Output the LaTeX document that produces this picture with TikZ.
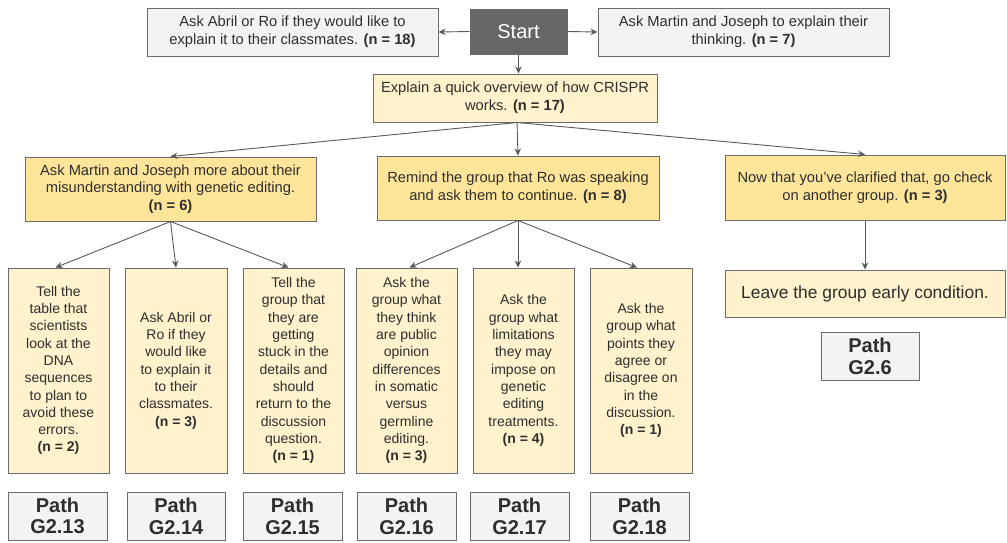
\documentclass[tikz,border=0pt]{standalone}
\usepackage{fontspec}
\setmainfont{Liberation Sans}
\usetikzlibrary{arrows.meta}

\definecolor{bordergray}{HTML}{6B6B6B}
\definecolor{arrowgray}{HTML}{595959}
\definecolor{txt}{HTML}{2E2E2E}
\definecolor{greyfill}{HTML}{F3F3F3}
\definecolor{startfill}{HTML}{666666}
\definecolor{palefill}{HTML}{FFF2CC}
\definecolor{goldfill}{HTML}{FFE599}

\tikzset{
  base/.style={draw=bordergray, line width=1pt, align=center, inner sep=0pt,
               text=txt, font=\fontsize{14.7}{17.8}\selectfont},
  size/.style 2 args={minimum width=#1, minimum height=#2},
  greybox/.style={base, fill=greyfill},
  startbox/.style={base, fill=startfill, text=white, font=\fontsize{20}{24}\selectfont},
  palebox/.style={base, fill=palefill},
  goldbox/.style={base, fill=goldfill},
  tallbox/.style={palebox, size={101pt}{205pt}, font=\fontsize{14}{17.3}\selectfont},
  leavebox/.style={palebox, font=\fontsize{17.4}{20}\selectfont},
  pathbox/.style={greybox, size={99pt}{48pt}, font=\bfseries\fontsize{20}{21.7}\selectfont},
  arr/.style={draw=arrowgray, line width=0.9pt, -{Stealth[length=7pt,width=6.5pt]}},
}

\begin{document}
\begin{tikzpicture}[x=1pt, y=-1pt]
\useasboundingbox (0,0) rectangle (1007,542);

% top row
\node[startbox, size={97pt}{45pt}] (start) at (518.5,31.5) {Start};
\node[greybox, size={291pt}{48pt}] (abril) at (292.5,32)
  {Ask Abril or Ro if they would like to\\explain it to their classmates. \textbf{(n = 18)}};
\node[greybox, size={291pt}{48pt}] (martin) at (743.5,32)
  {Ask Martin and Joseph to explain their\\thinking. \textbf{(n = 7)}};

% overview step
\node[palebox, size={284pt}{48pt}] (crispr) at (515,98)
  {Explain a quick overview of how CRISPR\\works. \textbf{(n = 17)}};

% second level
\node[goldbox, size={291pt}{64pt}] (midL) at (170.5,189)
  {Ask Martin and Joseph more about their\\misunderstanding with genetic editing.\\\textbf{(n = 6)}};
\node[goldbox, size={282pt}{64pt}] (midC) at (518,188)
  {Remind the group that Ro was speaking\\and ask them to continue. \textbf{(n = 8)}};
\node[goldbox, size={280pt}{65pt}] (midR) at (865,187.5)
  {Now that you’ve clarified that, go check\\on another group. \textbf{(n = 3)}};

% leave branch
\node[leavebox, size={280pt}{47pt}] (leave) at (865,293.5) {Leave the group early condition.};
\node[pathbox, size={98pt}{48pt}] (p6) at (870,356) {Path\\G2.6};

% third level
\node[tallbox] (t1) at (58.5,370.5)
  {Tell the\\table that\\scientists\\look at the\\DNA\\sequences\\to plan to\\avoid these\\errors.\\\textbf{(n = 2)}};
\node[tallbox, size={102pt}{205pt}] (t2) at (176,370.5)
  {Ask Abril or\\Ro if they\\would like\\to explain it\\to their\\classmates.\\\textbf{(n = 3)}};
\node[tallbox] (t3) at (293.5,370.5)
  {Tell the\\group that\\they are\\getting\\stuck in the\\details and\\should\\return to the\\discussion\\question.\\\textbf{(n = 1)}};
\node[tallbox] (t4) at (406.5,370.5)
  {Ask the\\group what\\they think\\are public\\opinion\\differences\\in somatic\\versus\\germline\\editing.\\\textbf{(n = 3)}};
\node[tallbox] (t5) at (523.5,370.5)
  {Ask the\\group what\\limitations\\they may\\impose on\\genetic\\editing\\treatments.\\\textbf{(n = 4)}};
\node[tallbox, size={102pt}{205pt}] (t6) at (641,370.5)
  {Ask the\\group what\\points they\\agree or\\disagree on\\in the\\discussion.\\\textbf{(n = 1)}};

% path labels
\node[pathbox] (p13) at (57.5,516) {Path\\G2.13};
\node[pathbox, size={98pt}{48pt}] (p14) at (176,516) {Path\\G2.14};
\node[pathbox] (p15) at (292.5,516) {Path\\G2.15};
\node[pathbox] (p16) at (406.5,516) {Path\\G2.16};
\node[pathbox] (p17) at (519.5,516) {Path\\G2.17};
\node[pathbox] (p18) at (639.5,516) {Path\\G2.18};

% connectors
\draw[arr] (start.west) -- (abril.east);
\draw[arr] (start.east) -- (martin.west);
\draw[arr] (start.south) -- (start.south |- crispr.north);
\draw[arr] ([xshift=2pt]crispr.south) -- (midL.north);
\draw[arr] ([xshift=2pt]crispr.south) -- (midC.north);
\draw[arr] ([xshift=2pt]crispr.south) -- (midR.north);
\draw[arr] (midL.south) -- ([xshift=-3pt]t1.north);
\draw[arr] (midL.south) -- (t2.north);
\draw[arr] (midL.south) -- ([xshift=-5pt]t3.north);
\draw[arr] (midC.south) -- ([xshift=3pt]t4.north);
\draw[arr] (midC.south) -- (midC.south |- t5.north);
\draw[arr] (midC.south) -- ([xshift=-4pt]t6.north);
\draw[arr] (midR.south) -- (leave.north);
\end{tikzpicture}
\end{document}
